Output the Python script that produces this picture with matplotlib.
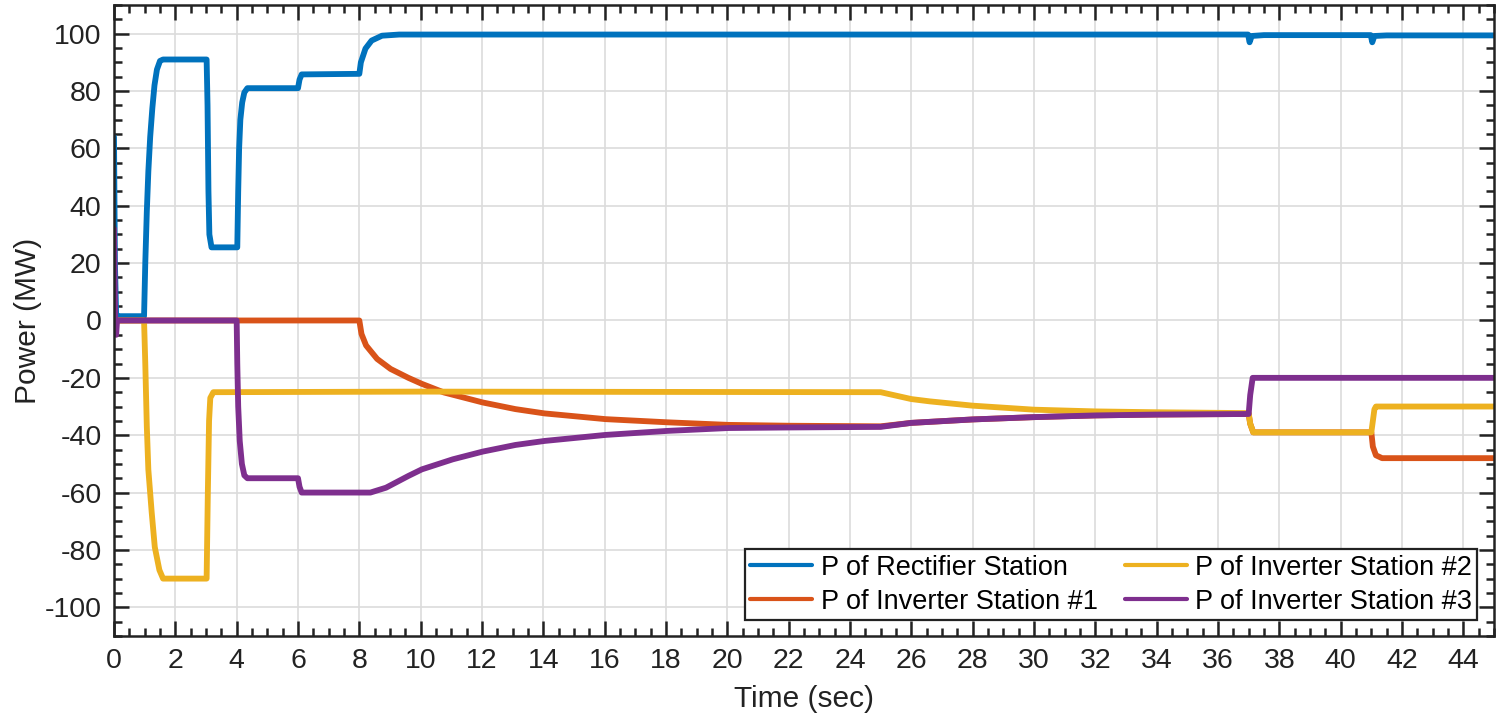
import matplotlib
matplotlib.use("Agg")
import matplotlib.pyplot as plt
from matplotlib.ticker import MultipleLocator

# time (sec) / power (MW)
t_rect = [0, 0.03, 0.07, 0.12, 0.98, 1.02, 1.07, 1.12, 1.18, 1.25, 1.32, 1.4, 1.5, 1.6,
          3.02, 3.05, 3.08, 3.11, 3.18, 4.02, 4.05, 4.08, 4.12, 4.18, 4.25, 4.35,
          6.0, 6.05, 6.12, 8.0, 8.05, 8.2, 8.4, 8.74, 9.3, 36.98, 37.03, 37.1, 37.5,
          40.98, 41.03, 41.1, 41.5, 45]
p_rect = [64, 20, 2, 1.5, 1.5, 20, 38, 52, 64, 74, 82, 87.5, 90.5, 91,
          91, 75, 45, 30, 25.5, 25.5, 45, 60, 70, 76, 79.5, 81,
          81, 84, 85.8, 86, 90, 94.8, 97.6, 99.3, 99.7, 99.7, 97, 99.2, 99.5,
          99.5, 97, 99.2, 99.4, 99.4]

t_inv1 = [0, 8.0, 8.07, 8.22, 8.58, 9.02, 9.6, 10.04, 10.76, 12.03, 13.09, 14.04,
          16.03, 18.04, 20.03, 22.04, 25.0, 26, 28, 30, 32, 34, 37.0, 37.05, 37.15,
          41.0, 41.05, 41.15, 41.35, 45]
p_inv1 = [0, 0, -4.7, -8.7, -13.4, -16.9, -20, -22.1, -25.1, -28.6, -30.9, -32.4,
          -34.4, -35.5, -36.4, -36.7, -36.9, -35.7, -34.5, -33.7, -33.1, -32.8, -32.6, -36, -39,
          -39, -44, -47, -48, -48]

t_inv2 = [0, 0.98, 1.02, 1.07, 1.12, 1.23, 1.33, 1.48, 1.6, 3.02, 3.06, 3.1, 3.14, 3.24,
          10, 25.0, 26, 26.6, 28, 30, 32, 34, 37.0, 37.05, 37.15, 41.0, 41.05, 41.1, 41.15, 45]
p_inv2 = [0, 0, -15, -37, -52, -67, -79, -87, -90, -90, -60, -35, -27, -25,
          -24.8, -25, -27.4, -28.2, -29.7, -31.1, -31.7, -32.0, -32.3, -36, -39, -39, -35, -31, -30, -30]

t_inv3 = [0, 0.04, 0.07, 0.1, 4.0, 4.02, 4.05, 4.1, 4.17, 4.25, 4.35, 6.0, 6.05, 6.12,
          8.36, 8.87, 9.6, 10.04, 11.05, 12.03, 13.09, 14.04, 16.03, 18.04, 20.03, 22.04,
          25.0, 26, 28, 30, 32, 34, 37.0, 37.05, 37.13, 45]
p_inv3 = [32, 0, -5, 0, 0, -15, -30, -42, -50, -54, -55, -55, -58, -60,
          -60, -58.3, -54.2, -51.9, -48.4, -45.7, -43.4, -42, -39.9, -38.5, -37.5, -37.3,
          -37.1, -35.7, -34.5, -33.7, -33.1, -32.8, -32.6, -26, -20, -20]

labels = ["P of Rectifier Station", "P of Inverter Station #1",
          "P of Inverter Station #2", "P of Inverter Station #3"]
colors = ["#0072BD", "#D95319", "#EDB120", "#7E2F8E"]

plt.rcParams['font.family'] = ['Liberation Sans', 'DejaVu Sans']
plt.rcParams['axes.unicode_minus'] = False

fig = plt.figure(figsize=(15, 7.25), dpi=100)
ax = fig.add_axes([0.076, 0.1228, 0.92, 0.8703])

series = [(t_rect, p_rect), (t_inv1, p_inv1), (t_inv2, p_inv2), (t_inv3, p_inv3)]
for (t, p), lab, col in zip(series, labels, colors):
    ax.plot(t, p, color=col, lw=4.2, label=lab, solid_joinstyle='round', solid_capstyle='round')

ax.set_xlim(0, 45)
ax.set_ylim(-110, 110)
ax.xaxis.set_major_locator(MultipleLocator(2))
ax.xaxis.set_minor_locator(MultipleLocator(0.5))
ax.yaxis.set_major_locator(MultipleLocator(20))
ax.yaxis.set_minor_locator(MultipleLocator(5))
ax.grid(True, which='major', color='#dcdcdc', lw=1.2)
ax.set_axisbelow(True)
ax.tick_params(which='both', direction='in', top=True, right=True, width=1.8,
               labelsize=20.5, colors='#222222')
ax.tick_params(which='major', length=11, pad=9)
ax.tick_params(which='minor', length=6)
for s in ax.spines.values():
    s.set_linewidth(1.8)
    s.set_color('#222222')

ax.set_xlabel("Time (sec)", fontsize=21.5, color='#222222')
ax.set_ylabel("Power (MW)", fontsize=21.5, color='#222222')
ax.xaxis.set_label_coords(0.5, -0.1, transform=ax.transAxes)
ax.yaxis.set_label_coords(-0.062, 0.5, transform=ax.transAxes)
ax.xaxis.label.set_va('center')
ax.yaxis.label.set_va('center')

leg = ax.legend(ncol=2, loc='lower right', bbox_to_anchor=(0.988, 0.025), fontsize=19.5,
                frameon=True, fancybox=False, edgecolor='#222222', framealpha=1,
                handlelength=2.3, handletextpad=0.3, columnspacing=1.0,
                labelspacing=0.3, borderpad=0.2, borderaxespad=0)
leg.get_frame().set_linewidth(1.6)
for h in leg.get_lines():
    h.set_linewidth(3)

fig.savefig("out.png", dpi=100)
